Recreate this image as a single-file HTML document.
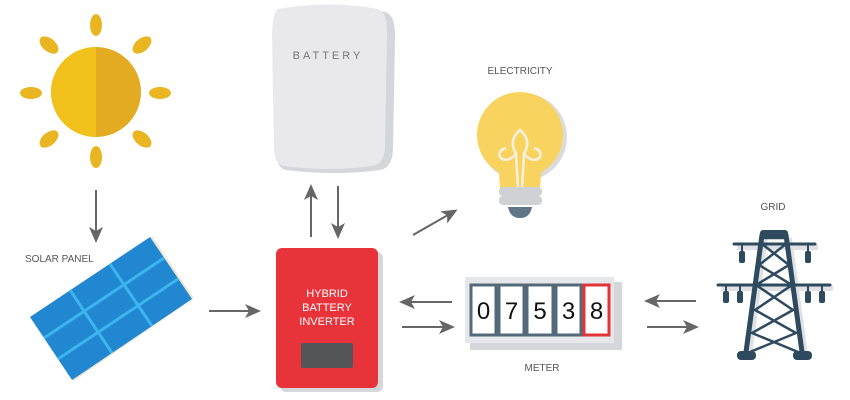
<!DOCTYPE html>
<html><head><meta charset="utf-8"><style>
html,body{margin:0;padding:0;background:#fff;}
svg{display:block;font-family:"Liberation Sans",sans-serif;}
</style></head><body>
<svg width="850" height="400" viewBox="0 0 850 400" xmlns="http://www.w3.org/2000/svg">
<defs>
<marker id="ah" markerWidth="16" markerHeight="16" refX="13" refY="8" orient="auto" markerUnits="userSpaceOnUse">
<path d="M0,1 L16,8 L0,15 L4,8 Z" fill="#666"/>
</marker>
<clipPath id="sl"><rect x="0" y="0" width="96" height="200"/></clipPath>
</defs>
<!-- Sun -->
<circle cx="96" cy="92" r="45" fill="#e2ab22"/>
<circle cx="96" cy="92" r="45" fill="#f0c11b" clip-path="url(#sl)"/>
<g fill="#e9b520">
<ellipse cx="96" cy="25" rx="6" ry="11"/>
<ellipse cx="96" cy="157" rx="6" ry="11"/>
<ellipse cx="31" cy="93" rx="11" ry="6"/>
<ellipse cx="160" cy="93" rx="11" ry="6"/>
<ellipse cx="49" cy="45" rx="11" ry="6.5" transform="rotate(40 49 45)"/>
<ellipse cx="142" cy="45" rx="11" ry="6.5" transform="rotate(-40 142 45)"/>
<ellipse cx="49" cy="139" rx="11" ry="6.5" transform="rotate(-40 49 139)"/>
<ellipse cx="142" cy="139" rx="11" ry="6.5" transform="rotate(40 142 139)"/>
</g>
<!-- arrows -->
<g stroke="#666" stroke-width="2" fill="none" marker-end="url(#ah)">
<line x1="96" y1="190" x2="96" y2="240"/>
<line x1="209" y1="311" x2="258" y2="311"/>
<line x1="311" y1="237" x2="311" y2="187"/>
<line x1="338" y1="186" x2="338" y2="236"/>
<line x1="413" y1="235" x2="455" y2="211"/>
<line x1="452" y1="302" x2="402" y2="302"/>
<line x1="402" y1="327" x2="452" y2="327"/>
<line x1="696" y1="301" x2="647" y2="301"/>
<line x1="647" y1="327" x2="696" y2="327"/>
</g>
<!-- Solar panel -->
<text x="25" y="262" font-size="10" fill="#555">SOLAR PANEL</text>
<polygon points="152,236 194,298 74,381 32,318" fill="#f1e6d4"/>
<polygon points="150,237 192,299 72,380 30,317" fill="#2087d0"/>
<g stroke="#3cb5ee" stroke-width="3">
<line x1="164" y1="258" x2="44" y2="338"/>
<line x1="178" y1="279" x2="58" y2="359"/>
<line x1="110" y1="264" x2="152" y2="326"/>
<line x1="70" y1="290" x2="112" y2="353"/>
</g>
<!-- Battery -->
<path d="M282,12 Q335,2 386,12 Q396,16 395,40 L393,150 Q392,168 380,170 Q335,176 286,170 Q276,168 276,150 L274,40 Q274,16 282,12 Z" fill="#d5d6da"/>
<path d="M278,9 Q330,0 378,9 Q388,13 387,38 L385,148 Q384,164 372,166 Q330,172 284,166 Q274,164 274,148 L272,38 Q272,13 278,9 Z" fill="#e9e9eb"/>
<text x="328" y="59" font-size="11" fill="#777" text-anchor="middle" letter-spacing="3">BATTERY</text>
<!-- Inverter -->
<rect x="280" y="252" width="103" height="140" rx="6" fill="#d6d7db"/>
<rect x="276" y="248" width="102" height="140" rx="6" fill="#e8333a"/>
<g fill="#fff" font-size="11" text-anchor="middle">
<text x="327" y="297">HYBRID</text>
<text x="327" y="311">BATTERY</text>
<text x="327" y="325">INVERTER</text>
</g>
<rect x="301" y="343" width="52" height="25" rx="2" fill="#545558"/>
<!-- Bulb -->
<text x="520" y="74" font-size="10" fill="#555" text-anchor="middle">ELECTRICITY</text>
<circle cx="523" cy="137" r="44" fill="#dadbdf"/>
<circle cx="520" cy="135" r="43" fill="#f9d35f"/>
<path d="M498,160 Q520,172 542,160 L540,188 L500,188 Z" fill="#f9d35f"/>
<path d="M506,148 Q498,150 500,157 Q506,164 516,154 L518,188 M534,148 Q542,150 540,157 Q534,164 524,154 L522,188 M516,154 Q508,140 520,130 Q532,140 524,154" stroke="#f5f0e0" stroke-width="2.5" fill="none"/>
<rect x="499" y="187" width="43" height="9" rx="4" fill="#cfd1d5"/>
<rect x="499" y="196" width="43" height="9" rx="4" fill="#cfd1d5"/>
<path d="M508,207 L532,207 Q530,218 520,218 Q510,218 508,207 Z" fill="#5f7688"/>
<!-- Meter -->
<rect x="470" y="282" width="152" height="68" fill="#d6d7db"/>
<rect x="465" y="277" width="149" height="66" fill="#e6e7ea"/>
<g fill="#fff" stroke="#546a7b" stroke-width="3">
<rect x="471" y="285" width="25" height="50"/>
<rect x="499" y="285" width="25" height="50"/>
<rect x="527" y="285" width="26" height="50"/>
<rect x="556" y="285" width="25" height="50"/>
</g>
<rect x="584" y="285" width="25" height="50" fill="#fff" stroke="#e3343a" stroke-width="3"/>
<g font-size="24" fill="#111" text-anchor="middle">
<text x="483.5" y="319">0</text>
<text x="511.5" y="319">7</text>
<text x="540" y="319">5</text>
<text x="568.5" y="319">3</text>
<text x="596.5" y="319">8</text>
</g>
<text x="542" y="371" font-size="10" fill="#555" text-anchor="middle">METER</text>
<!-- Grid tower -->
<text x="773" y="210" font-size="10" fill="#555" text-anchor="middle">GRID</text>
<g stroke="#e0e1e4" stroke-width="6" fill="none" transform="translate(3,3)">
<path d="M762,235 L746,352 M786,235 L802,352 M734,244 L815,244 M718,285 L830,285"/>
</g>
<g stroke="#2e4a5e" fill="none" stroke-linecap="round">
<path d="M762,235 L746,352 M786,235 L802,352" stroke-width="5"/>
<path d="M734,244 L815,244 M718,285 L830,285" stroke-width="3"/>
<path d="M762,238 L786,238 M762,244 L789,265 L756,285 L793,310 L752,333 L798,352 M786,244 L759,265 L792,285 L755,310 L796,333 L750,352" stroke-width="2.5"/>
<path d="M742,244 L742,252 M808,244 L808,252 M726,285 L726,292 M740,285 L740,292 M808,285 L808,292 M822,285 L822,292" stroke-width="2"/>
</g>
<rect x="760" y="230" width="28" height="8" rx="3" fill="#2e4a5e"/>
<g fill="#2e4a5e">
<rect x="739" y="251" width="6" height="12" rx="2"/>
<rect x="805" y="251" width="6" height="12" rx="2"/>
<rect x="723" y="291" width="6" height="12" rx="2"/>
<rect x="737" y="291" width="6" height="12" rx="2"/>
<rect x="805" y="291" width="6" height="12" rx="2"/>
<rect x="819" y="291" width="6" height="12" rx="2"/>
<rect x="737" y="351" width="19" height="9" rx="4"/>
<rect x="793" y="351" width="19" height="9" rx="4"/>
</g>
</svg>
</body></html>
